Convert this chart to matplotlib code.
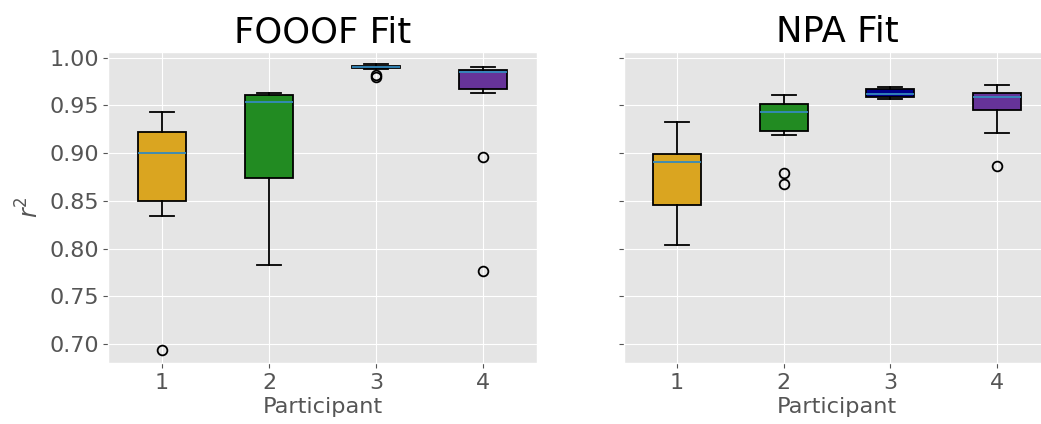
import matplotlib
matplotlib.use("Agg")
import matplotlib.pyplot as plt

plt.style.use("ggplot")

participants = ["1", "2", "3", "4"]
box_colors = ["goldenrod", "forestgreen", "darkblue", "rebeccapurple"]

# FOOOF fit r^2 summary statistics
fooof_whislo = [0.834, 0.783, 0.988, 0.963]
fooof_q1 = [0.8495, 0.874, 0.989, 0.9667]
fooof_med = [0.8997, 0.954, 0.9905, 0.985]
fooof_q3 = [0.922, 0.961, 0.9916, 0.987]
fooof_whishi = [0.943, 0.963, 0.993, 0.9905]
fooof_fliers = [[0.694], [], [0.982, 0.980], [0.8955, 0.776]]

# NPA fit r^2 summary statistics
npa_whislo = [0.804, 0.9186, 0.957, 0.921]
npa_q1 = [0.846, 0.923, 0.959, 0.9456]
npa_med = [0.891, 0.9435, 0.9618, 0.9593]
npa_q3 = [0.899, 0.951, 0.967, 0.963]
npa_whishi = [0.933, 0.9607, 0.969, 0.9716]
npa_fliers = [[], [0.879, 0.868], [], [0.886]]


def make_stats(lo, q1, med, q3, hi, fl):
    return [dict(whislo=a, q1=b, med=c, q3=d, whishi=e, fliers=f, label=lab)
            for a, b, c, d, e, f, lab in zip(lo, q1, med, q3, hi, fl, participants)]


fig = plt.figure(figsize=(10.41, 4.24), dpi=100)
ax1 = fig.add_axes([0.1042, 0.1439, 0.4112, 0.7335])
ax2 = fig.add_axes([0.599, 0.1439, 0.4101, 0.7335], sharey=ax1)

panels = [
    (ax1, "FOOOF Fit", make_stats(fooof_whislo, fooof_q1, fooof_med, fooof_q3, fooof_whishi, fooof_fliers)),
    (ax2, "NPA Fit", make_stats(npa_whislo, npa_q1, npa_med, npa_q3, npa_whishi, npa_fliers)),
]

for ax, title, stats in panels:
    bp = ax.bxp(stats, widths=0.45, patch_artist=True,
                boxprops=dict(edgecolor="black", linewidth=1.3),
                whiskerprops=dict(color="black", linewidth=1.3),
                capprops=dict(color="black", linewidth=1.3),
                medianprops=dict(color="#348ABD", linewidth=1.3),
                flierprops=dict(marker="o", markerfacecolor="none",
                                markeredgecolor="black", markersize=7,
                                markeredgewidth=1.3))
    for patch, c in zip(bp["boxes"], box_colors):
        patch.set_facecolor(c)
    ax.set_title(title, fontsize=25.5, color="black", pad=7)
    ax.set_xlabel("Participant", fontsize=16.2, color="#555555", labelpad=3)
    ax.tick_params(axis="both", labelsize=16, colors="#555555")

ax1.set_ylabel("$r^2$", fontsize=17, color="#555555")
ax1.set_yticks([0.70, 0.75, 0.80, 0.85, 0.90, 0.95, 1.00])
ax1.set_ylim(0.680, 1.006)
plt.setp(ax2.get_yticklabels(), visible=False)

fig.savefig("out.png", dpi=100)
